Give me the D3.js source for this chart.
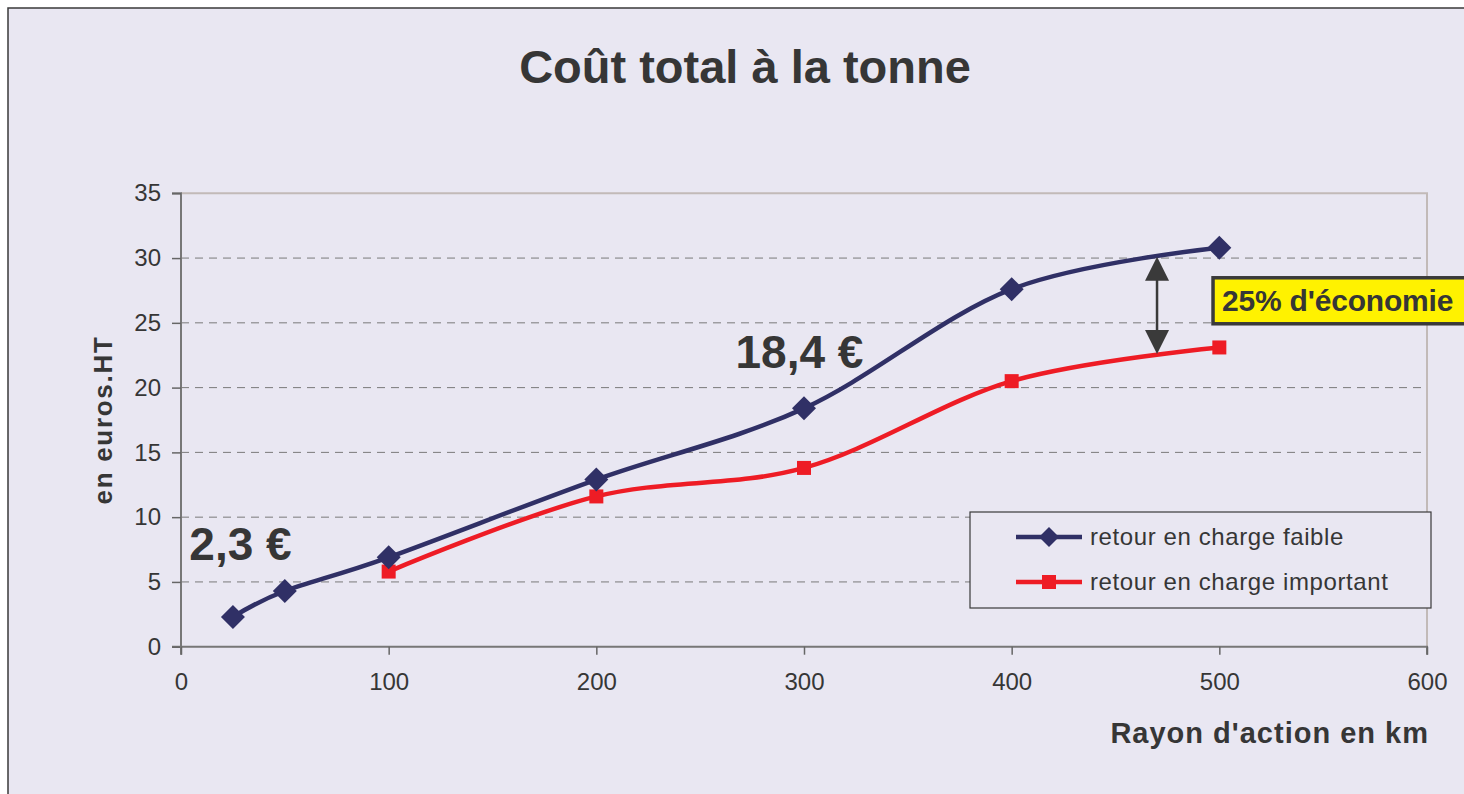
<!DOCTYPE html>
<html lang="fr">
<head>
  <meta charset="UTF-8">
  <title>Coût total à la tonne</title>
  <script src="https://cdn.jsdelivr.net/npm/d3@7"></script>
  <style>
    html, body { margin: 0; padding: 0; background: #ffffff; }
    svg { display: block; font-family: "Liberation Sans", Arial, Helvetica, sans-serif; }
  </style>
</head>
<body>
  <svg width="1464" height="794"></svg>
  <script>
    // data
    var distances = [25, 50, 100, 200, 300, 400, 500];
    var faible = [2.3, 4.3, 6.9, 12.9, 18.4, 27.6, 30.8];
    var importantX = [100, 200, 300, 400, 500];
    var important = [5.8, 11.6, 13.8, 20.5, 23.1];
    var xTicks = [0, 100, 200, 300, 400, 500, 600];
    var yTicks = [0, 5, 10, 15, 20, 25, 30, 35];
    var seriesNames = ['retour en charge faible', 'retour en charge important'];
    // annotations in data units
    var labelLow = { x: 4, y: 6.7, text: '2,3 €' };
    var labelHigh = { x: 267, y: 21.5, text: '18,4 €' };
    var gap = { x: 470, top: 30.1, bottom: 22.6, text: "25% d'économie" };

    var navy = '#303066';
    var red = '#ee1c25';
    var ink = '#363636';
    var bg = '#e9e7f2';

    var svg = d3.select('svg');
    var W = +svg.attr('width'), H = +svg.attr('height');

    svg.append('rect').attr('x', 8).attr('y', 8).attr('width', W).attr('height', H)
      .attr('fill', bg).attr('stroke', '#3a3a3a').attr('stroke-width', 1.5);

    var x = d3.scaleLinear().domain([0, 600]).range([181, 1427]);
    var y = d3.scaleLinear().domain([0, 35]).range([646.7, 193.3]);

    // title
    svg.append('text').attr('x', 745).attr('y', 83)
      .attr('text-anchor', 'middle').attr('font-size', 47).attr('font-weight', 'bold')
      .attr('fill', ink).text('Coût total à la tonne');

    // grid
    svg.append('g').selectAll('line').data(yTicks.filter(function(d) { return d > 0 && d < 35; }))
      .join('line')
      .attr('x1', x(0)).attr('x2', x(600))
      .attr('y1', function(d) { return y(d); }).attr('y2', function(d) { return y(d); })
      .attr('stroke', '#7a7a7a').attr('stroke-width', 1).attr('stroke-dasharray', '8,6');

    // plot frame top / right
    svg.append('path')
      .attr('d', 'M' + x(0) + ',' + y(35) + 'H' + x(600) + 'V' + y(0))
      .attr('fill', 'none').attr('stroke', '#c2bab8').attr('stroke-width', 2);

    // axes
    var yAxis = svg.append('g').attr('transform', 'translate(' + x(0) + ',0)')
      .call(d3.axisLeft(y).tickValues(yTicks).tickSize(9).tickPadding(11));
    var xAxis = svg.append('g').attr('transform', 'translate(0,' + y(0) + ')')
      .call(d3.axisBottom(x).tickValues(xTicks).tickSize(8).tickPadding(18));
    [yAxis, xAxis].forEach(function(a) {
      a.select('.domain').attr('stroke', '#777').attr('stroke-width', 2);
      a.selectAll('.tick line').attr('stroke', '#666').attr('stroke-width', 1.5);
      a.selectAll('.tick text').attr('fill', ink).attr('font-size', 24)
        .attr('font-family', '"Liberation Sans", Arial, sans-serif');
    });
    yAxis.select('.domain').attr('d', 'M-9,' + y(35) + 'H0V' + y(0) + 'H-9');
    xAxis.select('.domain').attr('d', 'M' + x(0) + ',8V0H' + x(600) + 'V8');

    // axis titles
    svg.append('text').attr('x', 1429).attr('y', 743).attr('text-anchor', 'end')
      .attr('font-size', 29).attr('font-weight', 'bold').attr('letter-spacing', 1)
      .attr('fill', ink).text("Rayon d'action en km");
    svg.append('text').attr('transform', 'translate(112,420) rotate(-90)')
      .attr('text-anchor', 'middle').attr('font-size', 26).attr('font-weight', 'bold')
      .attr('letter-spacing', 1.7).attr('fill', ink).text('en euros.HT');

    // lines
    var line = d3.line()
      .x(function(d) { return x(d[0]); })
      .y(function(d) { return y(d[1]); })
      .curve(d3.curveCardinal.tension(0));

    var faiblePts = distances.map(function(d, i) { return [d, faible[i]]; });
    var importantPts = importantX.map(function(d, i) { return [d, important[i]]; });

    svg.append('path').datum(importantPts).attr('d', line)
      .attr('fill', 'none').attr('stroke', red).attr('stroke-width', 4.5)
      .attr('stroke-linejoin', 'round');
    svg.append('g').selectAll('rect').data(importantPts).join('rect')
      .attr('x', function(d) { return x(d[0]) - 7; })
      .attr('y', function(d) { return y(d[1]) - 7; })
      .attr('width', 14).attr('height', 14).attr('fill', red);

    svg.append('path').datum(faiblePts).attr('d', line)
      .attr('fill', 'none').attr('stroke', navy).attr('stroke-width', 4.5)
      .attr('stroke-linejoin', 'round');
    var diamond = 'M0,-12L12,0L0,12L-12,0Z';
    svg.append('g').selectAll('path').data(faiblePts).join('path')
      .attr('transform', function(d) { return 'translate(' + x(d[0]) + ',' + y(d[1]) + ')'; })
      .attr('d', diamond).attr('fill', navy);

    // value labels
    [labelLow, labelHigh].forEach(function(l) {
      svg.append('text').attr('x', x(l.x)).attr('y', y(l.y))
        .attr('font-size', 46).attr('font-weight', 'bold').attr('fill', ink).text(l.text);
    });

    // gap arrow
    var ax = x(gap.x), ay1 = y(gap.top), ay2 = y(gap.bottom);
    svg.append('line').attr('x1', ax).attr('x2', ax).attr('y1', ay1 + 20).attr('y2', ay2 - 20)
      .attr('stroke', '#3a3a3a').attr('stroke-width', 2.5);
    svg.append('path')
      .attr('d', 'M' + ax + ',' + ay1 + 'l12,24h-24z M' + ax + ',' + ay2 + 'l12,-24h-24z')
      .attr('fill', '#3a3a3a');

    // gap label box
    var box = svg.append('g').attr('transform', 'translate(' + (ax + 56) + ',' + (ay1 + 21) + ')');
    box.append('rect').attr('x', 0).attr('y', 0).attr('width', 300).attr('height', 46)
      .attr('fill', '#fff200').attr('stroke', '#3a3a3a').attr('stroke-width', 3.5);
    box.append('text').attr('x', 9).attr('y', 33).attr('font-size', 30).attr('font-weight', 'bold')
      .attr('letter-spacing', -0.2).attr('fill', ink).text(gap.text);

    // legend
    var legend = svg.append('g').attr('transform', 'translate(970,512)');
    legend.append('rect').attr('width', 461).attr('height', 96)
      .attr('fill', bg).attr('stroke', '#3a3a3a').attr('stroke-width', 1.2);
    var entries = legend.selectAll('g.entry').data(seriesNames).join('g')
      .attr('class', 'entry')
      .attr('transform', function(d, i) { return 'translate(0,' + (25 + i * 45) + ')'; });
    entries.append('line').attr('x1', 46).attr('x2', 112)
      .attr('stroke', function(d, i) { return i ? red : navy; }).attr('stroke-width', 4.5);
    entries.append('path')
      .attr('transform', 'translate(79,0)')
      .attr('d', function(d, i) { return i ? 'M-7,-7H7V7H-7Z' : 'M0,-10L10,0L0,10L-10,0Z'; })
      .attr('fill', function(d, i) { return i ? red : navy; });
    entries.append('text').attr('x', 120).attr('y', 8)
      .attr('font-size', 24).attr('letter-spacing', 0.6).attr('fill', ink)
      .text(function(d) { return d; });
  </script>
</body>
</html>
